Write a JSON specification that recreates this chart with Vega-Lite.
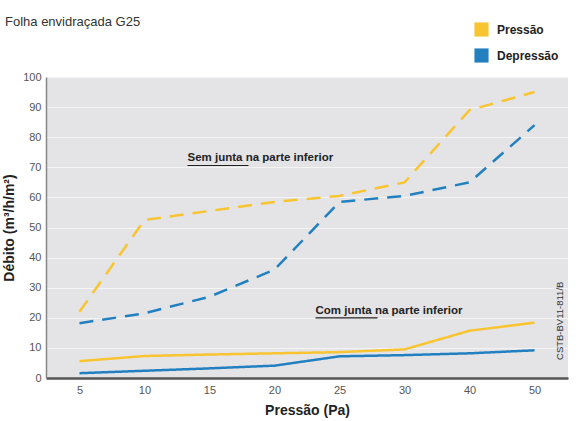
{
  "$schema": "https://vega.github.io/schema/vega-lite/v6.json",
  "width": 522,
  "height": 301,
  "autosize": {"type": "none"},
  "padding": {"left": 46, "top": 77, "right": 11, "bottom": 43},
  "background": "white",
  "config": {
    "font": "Liberation Sans Narrow, Liberation Sans, Arial",
    "view": {"fill": "#e4e4e7", "stroke": null}
  },
  "datasets": {
    "series": [
      {"p": 5, "v": 22, "tipo": "Pressão", "junta": "Sem"},
      {"p": 10, "v": 52.5, "tipo": "Pressão", "junta": "Sem"},
      {"p": 15, "v": 55.5, "tipo": "Pressão", "junta": "Sem"},
      {"p": 20, "v": 58.5, "tipo": "Pressão", "junta": "Sem"},
      {"p": 25, "v": 60.5, "tipo": "Pressão", "junta": "Sem"},
      {"p": 30, "v": 65, "tipo": "Pressão", "junta": "Sem"},
      {"p": 40, "v": 89, "tipo": "Pressão", "junta": "Sem"},
      {"p": 50, "v": 95, "tipo": "Pressão", "junta": "Sem"},
      {"p": 5, "v": 18.2, "tipo": "Depressão", "junta": "Sem"},
      {"p": 10, "v": 21.5, "tipo": "Depressão", "junta": "Sem"},
      {"p": 15, "v": 27, "tipo": "Depressão", "junta": "Sem"},
      {"p": 20, "v": 36, "tipo": "Depressão", "junta": "Sem"},
      {"p": 25, "v": 58.5, "tipo": "Depressão", "junta": "Sem"},
      {"p": 30, "v": 60.5, "tipo": "Depressão", "junta": "Sem"},
      {"p": 40, "v": 65, "tipo": "Depressão", "junta": "Sem"},
      {"p": 50, "v": 84, "tipo": "Depressão", "junta": "Sem"},
      {"p": 5, "v": 5.6, "tipo": "Pressão", "junta": "Com"},
      {"p": 10, "v": 7.3, "tipo": "Pressão", "junta": "Com"},
      {"p": 15, "v": 7.8, "tipo": "Pressão", "junta": "Com"},
      {"p": 20, "v": 8.2, "tipo": "Pressão", "junta": "Com"},
      {"p": 25, "v": 8.6, "tipo": "Pressão", "junta": "Com"},
      {"p": 30, "v": 9.5, "tipo": "Pressão", "junta": "Com"},
      {"p": 40, "v": 15.7, "tipo": "Pressão", "junta": "Com"},
      {"p": 50, "v": 18.4, "tipo": "Pressão", "junta": "Com"},
      {"p": 5, "v": 1.6, "tipo": "Depressão", "junta": "Com"},
      {"p": 10, "v": 2.4, "tipo": "Depressão", "junta": "Com"},
      {"p": 15, "v": 3.2, "tipo": "Depressão", "junta": "Com"},
      {"p": 20, "v": 4.1, "tipo": "Depressão", "junta": "Com"},
      {"p": 25, "v": 7.2, "tipo": "Depressão", "junta": "Com"},
      {"p": 30, "v": 7.6, "tipo": "Depressão", "junta": "Com"},
      {"p": 40, "v": 8.2, "tipo": "Depressão", "junta": "Com"},
      {"p": 50, "v": 9.2, "tipo": "Depressão", "junta": "Com"}
    ]
  },
  "title": {
    "text": "Folha envidraçada G25",
    "anchor": "start",
    "frame": "group",
    "orient": "top",
    "fontSize": 13,
    "fontWeight": "normal",
    "color": "#333333",
    "baseline": "alphabetic",
    "offset": -17,
    "dx": -41
  },
  "encoding": {
    "x": {
      "field": "p",
      "type": "ordinal",
      "scale": {"type": "point", "padding": 0.515},
      "axis": {
        "title": "Pressão (Pa)",
        "titleFontSize": 14,
        "titleFontWeight": "bold",
        "titleColor": "#222222",
        "titlePadding": 8,
        "labelAngle": 0,
        "labelFontSize": 11,
        "labelColor": "#555555",
        "labelPadding": 6,
        "ticks": false,
        "domainColor": "#555555",
        "domainWidth": 2.5,
        "grid": false
      }
    },
    "y": {
      "field": "v",
      "type": "quantitative",
      "scale": {"domain": [0, 100], "nice": false},
      "axis": {
        "title": "Débito  (m³/h/m²)",
        "titleFontSize": 14,
        "titleFontWeight": "bold",
        "titleColor": "#222222",
        "titlePadding": 6,
        "values": [0, 10, 20, 30, 40, 50, 60, 70, 80, 90, 100],
        "labelOverlap": false,
        "labelFontSize": 11,
        "labelColor": "#555555",
        "labelPadding": 5,
        "ticks": false,
        "domainColor": "#888888",
        "domainWidth": 1.5,
        "grid": true,
        "gridColor": "#f4f4f4",
        "gridWidth": 1
      }
    }
  },
  "layer": [
    {
      "data": {"name": "series"},
      "mark": {"type": "line", "strokeWidth": 2.5},
      "encoding": {
        "color": {
          "field": "tipo",
          "type": "nominal",
          "scale": {"domain": ["Pressão", "Depressão"], "range": ["#f8c430", "#2280c0"]},
          "legend": {
            "title": null,
            "orient": "none",
            "legendX": 428,
            "legendY": -55,
            "symbolType": "square",
            "symbolSize": 200,
            "symbolStrokeWidth": 0,
            "symbolOpacity": 1,
            "labelFontSize": 12,
            "labelFontWeight": "bold",
            "labelColor": "#222222",
            "rowPadding": 11,
            "labelOffset": 8,
            "encode": {
              "symbols": {"update": {"fill": {"scale": "color", "field": "value"}, "strokeWidth": {"value": 0}, "strokeDash": {"value": [1, 0]}}}
            }
          }
        },
        "strokeDash": {
          "field": "junta",
          "type": "nominal",
          "scale": {"domain": ["Sem", "Com"], "range": [[14, 9], [1, 0]]},
          "legend": null
        }
      }
    },
    {
      "data": {"values": [
        {"p": 10, "v": 73, "t": "Sem junta na parte inferior"}
      ]},
      "mark": {"type": "text", "align": "left", "baseline": "middle", "dx": 43, "fontSize": 11.5, "fontWeight": "bold", "color": "#222222"},
      "encoding": {
        "text": {"field": "t"}
      }
    },
    {
      "data": {"values": [
        {"p": 25, "v": 22.3, "t": "Com junta na parte inferior"}
      ]},
      "mark": {"type": "text", "align": "left", "baseline": "middle", "dx": -24, "fontSize": 11.5, "fontWeight": "bold", "color": "#222222"},
      "encoding": {
        "text": {"field": "t"}
      }
    },
    {
      "data": {"values": [{"p": 10, "p2": 15, "v": 70.6}]},
      "mark": {"type": "rule", "xOffset": 43, "x2Offset": 39, "strokeWidth": 1.2, "color": "#222222"},
      "encoding": {
        "x2": {"field": "p2"}
      }
    },
    {
      "data": {"values": [{"p": 25, "p2": 30, "v": 20.0}]},
      "mark": {"type": "rule", "xOffset": -24, "x2Offset": -27, "strokeWidth": 1.2, "color": "#222222"},
      "encoding": {
        "x2": {"field": "p2"}
      }
    },
    {
      "data": {"values": [{"p": 50, "v": 19, "t": "CSTB-BV11-811/B"}]},
      "mark": {"type": "text", "angle": 270, "align": "center", "baseline": "middle", "dy": 25, "fontSize": 9.5, "color": "#333333"},
      "encoding": {
        "text": {"field": "t"}
      }
    }
  ]
}
